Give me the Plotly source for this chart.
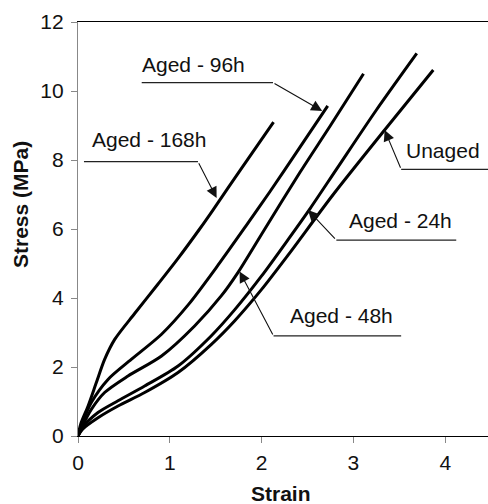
import plotly.graph_objects as go

# Stress-strain curves of the samples (strain, stress in MPa)
strain_168h = [0, 0.03, 0.11, 0.20, 0.29, 0.40, 0.617, 0.87, 1.09, 1.325, 1.47, 1.76, 2.13]
stress_168h = [0, 0.35, 0.87, 1.55, 2.22, 2.80, 3.55, 4.40, 5.15, 6.00, 6.55, 7.68, 9.10]

strain_96h = [0, 0.05, 0.145, 0.327, 0.58, 0.91, 1.20, 1.525, 1.83, 2.09, 2.40, 2.72]
stress_96h = [0, 0.40, 0.97, 1.64, 2.22, 2.95, 3.80, 4.95, 6.09, 7.08, 8.30, 9.57]

strain_48h = [0, 0.05, 0.145, 0.29, 0.545, 0.91, 1.27, 1.56, 1.74, 2.03, 2.42, 2.75, 3.11]
stress_48h = [0, 0.30, 0.77, 1.26, 1.74, 2.32, 3.19, 4.06, 4.73, 5.98, 7.65, 9.00, 10.50]

strain_24h = [0, 0.05, 0.218, 0.436, 0.726, 1.09, 1.45, 1.71, 2.00, 2.29, 2.53, 2.82, 3.25, 3.69]
stress_24h = [0, 0.25, 0.68, 1.02, 1.45, 2.03, 2.90, 3.67, 4.64, 5.70, 6.60, 7.75, 9.45, 11.09]

strain_unaged = [0, 0.05, 0.218, 0.436, 0.726, 1.09, 1.45, 1.71, 2.00, 2.29, 2.78, 3.34, 3.87]
stress_unaged = [0, 0.20, 0.53, 0.87, 1.26, 1.84, 2.65, 3.35, 4.25, 5.25, 7.00, 8.87, 10.61]

x_ticks = [0, 1, 2, 3, 4]
y_ticks = [0, 2, 4, 6, 8, 10, 12]

series = [
    ("Aged - 168h", strain_168h, stress_168h),
    ("Aged - 96h", strain_96h, stress_96h),
    ("Aged - 48h", strain_48h, stress_48h),
    ("Aged - 24h", strain_24h, stress_24h),
    ("Unaged", strain_unaged, stress_unaged),
]

# Callout layout: label centre, horizontal leader (x0, x1, y), arrow tail and tip
callouts = {
    "Aged - 168h": dict(text=(0.768, 8.58), leader=(0.065, 1.307, 7.95), tail=(1.307, 7.95), tip=(1.51, 6.90)),
    "Aged - 96h": dict(text=(1.254, 10.78), leader=(0.694, 2.124, 10.24), tail=(2.124, 10.24), tip=(2.66, 9.42)),
    "Unaged": dict(text=(3.98, 8.28), leader=(3.52, 4.47, 7.73), tail=(3.52, 7.73), tip=(3.34, 8.87)),
    "Aged - 24h": dict(text=(3.51, 6.24), leader=(2.814, 4.12, 5.68), tail=(2.814, 5.68), tip=(2.505, 6.55)),
    "Aged - 48h": dict(text=(2.87, 3.48), leader=(2.13, 3.52, 2.90), tail=(2.13, 2.90), tip=(1.76, 4.77)),
}

FONT = "Arial, Liberation Sans, sans-serif"

fig = go.Figure()

for name, xs, ys in series:
    fig.add_trace(go.Scatter(
        x=xs, y=ys, mode="lines", name=name,
        line=dict(color="black", width=3, shape="spline", smoothing=0.8),
        showlegend=False, hoverinfo="skip",
    ))

annotations = []
for name, c in callouts.items():
    x0, x1, yl = c["leader"]
    fig.add_trace(go.Scatter(
        x=[x0, x1], y=[yl, yl], mode="lines",
        line=dict(color="#222", width=1.2),
        showlegend=False, hoverinfo="skip", cliponaxis=False,
    ))
    annotations.append(dict(
        x=c["tip"][0], y=c["tip"][1], ax=c["tail"][0], ay=c["tail"][1],
        xref="x", yref="y", axref="x", ayref="y",
        text="", showarrow=True, arrowhead=2, arrowsize=2.0, arrowwidth=1.1,
        arrowcolor="#111", standoff=0, startstandoff=0,
    ))
    annotations.append(dict(
        x=c["text"][0], y=c["text"][1], xref="x", yref="y",
        text=name, showarrow=False, xanchor="center", yanchor="middle",
        font=dict(family=FONT, size=21, color="#111"),
    ))

# Axis titles
annotations.append(dict(
    x=-0.139, y=0.558, xref="paper", yref="paper", text="<b>Stress (MPa)</b>",
    textangle=-90, showarrow=False, xanchor="center", yanchor="middle",
    font=dict(family=FONT, size=21, color="#111"),
))
annotations.append(dict(
    x=0.495, y=-0.140, xref="paper", yref="paper", text="<b>Strain</b>",
    showarrow=False, xanchor="center", yanchor="middle",
    font=dict(family=FONT, size=21, color="#111"),
))

fig.update_layout(
    width=488, height=504,
    margin=dict(l=78, r=0, t=22, b=68),
    paper_bgcolor="white", plot_bgcolor="white",
    font=dict(family=FONT, size=21, color="#111"),
    annotations=annotations,
    xaxis=dict(
        range=[0, 4.466], tickvals=x_ticks, ticks="outside", ticklen=6,
        tickcolor="#888", tickwidth=1, showline=True, linecolor="black",
        linewidth=1.2, mirror=True, showgrid=False, zeroline=False,
        tickfont=dict(family=FONT, size=21, color="#111"), ticklabelstandoff=2,
    ),
    yaxis=dict(
        range=[0, 12], tickvals=y_ticks, ticks="outside", ticklen=6,
        tickcolor="#888", tickwidth=1, showline=True, linecolor="#888",
        linewidth=1.2, showgrid=False, zeroline=False,
        tickfont=dict(family=FONT, size=21, color="#111"), ticklabelstandoff=3,
    ),
)

fig.write_html("out.html")
